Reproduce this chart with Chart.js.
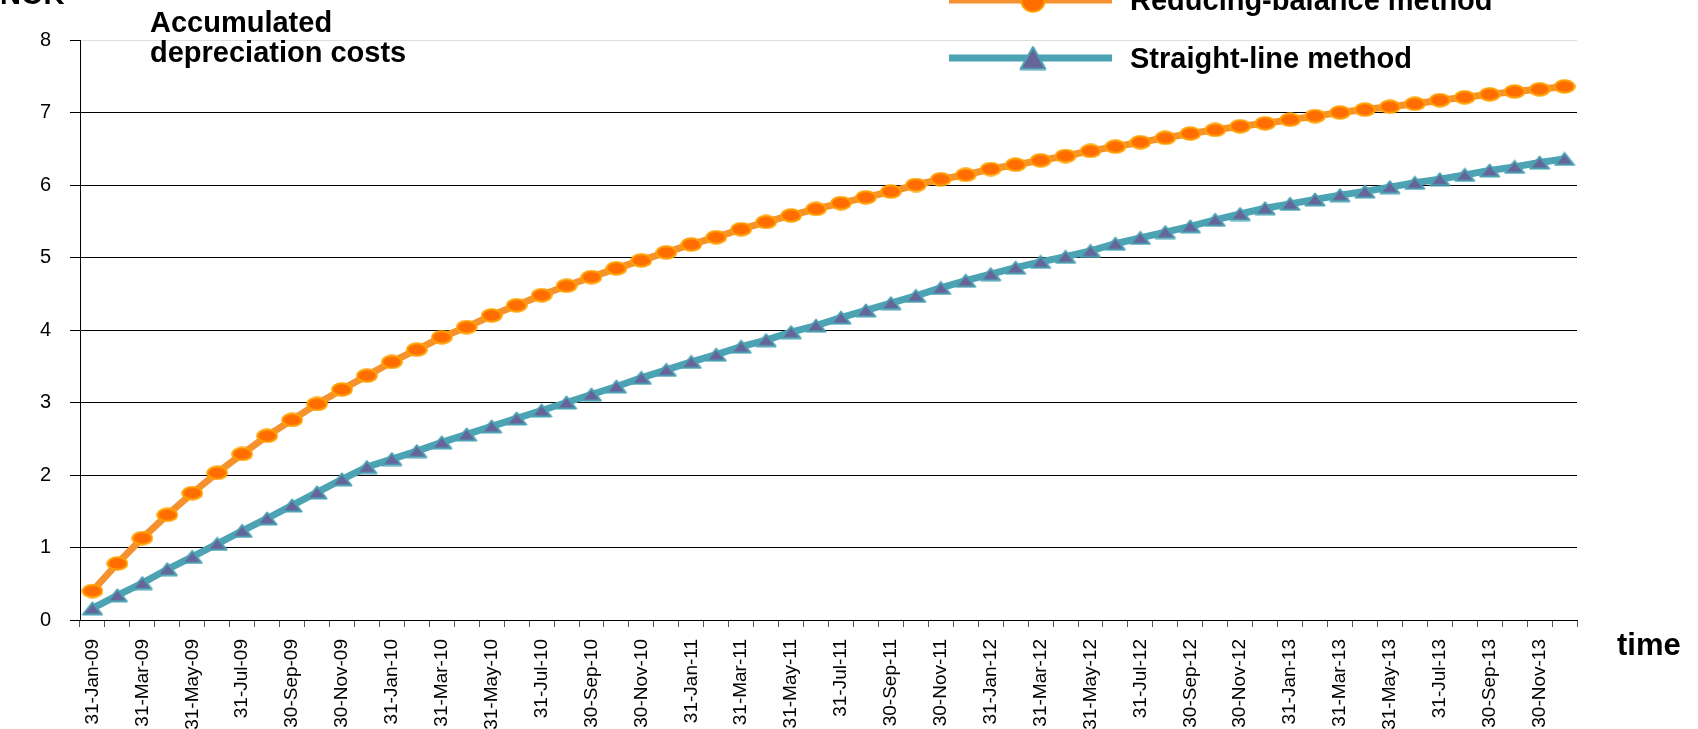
<!DOCTYPE html>
<html>
<head>
<meta charset="utf-8">
<script src="https://cdn.jsdelivr.net/npm/chart.js@4.4.1/dist/chart.umd.min.js"></script>
<style>
  html, body { margin: 0; padding: 0; background: #fff; }
  canvas { display: block; }
</style>
</head>
<body>
<canvas id="depChart" width="1698" height="729"></canvas>
<script>
// month-end dates, Jan 2009 .. Dec 2013
const categories = [
  '31-Jan-09', '28-Feb-09', '31-Mar-09', '30-Apr-09', '31-May-09', '30-Jun-09',
  '31-Jul-09', '31-Aug-09', '30-Sep-09', '31-Oct-09', '30-Nov-09', '31-Dec-09',
  '31-Jan-10', '28-Feb-10', '31-Mar-10', '30-Apr-10', '31-May-10', '30-Jun-10',
  '31-Jul-10', '31-Aug-10', '30-Sep-10', '31-Oct-10', '30-Nov-10', '31-Dec-10',
  '31-Jan-11', '28-Feb-11', '31-Mar-11', '30-Apr-11', '31-May-11', '30-Jun-11',
  '31-Jul-11', '31-Aug-11', '30-Sep-11', '31-Oct-11', '30-Nov-11', '31-Dec-11',
  '31-Jan-12', '29-Feb-12', '31-Mar-12', '30-Apr-12', '31-May-12', '30-Jun-12',
  '31-Jul-12', '31-Aug-12', '30-Sep-12', '31-Oct-12', '30-Nov-12', '31-Dec-12',
  '31-Jan-13', '28-Feb-13', '31-Mar-13', '30-Apr-13', '31-May-13', '30-Jun-13',
  '31-Jul-13', '31-Aug-13', '30-Sep-13', '31-Oct-13', '30-Nov-13', '31-Dec-13'
];

const reducingBalance = [
  0.40, 0.78, 1.13, 1.45, 1.75, 2.03, 2.29, 2.54, 2.76, 2.98, 3.18, 3.37,
  3.56, 3.73, 3.90, 4.04, 4.20, 4.34, 4.48, 4.61, 4.73, 4.85, 4.96, 5.07,
  5.18, 5.28, 5.39, 5.49, 5.58, 5.67, 5.75, 5.83, 5.91, 6.00, 6.08, 6.14,
  6.22, 6.28, 6.34, 6.40, 6.47, 6.53, 6.59, 6.65, 6.71, 6.76, 6.81, 6.85,
  6.90, 6.95, 7.00, 7.04, 7.08, 7.12, 7.17, 7.21, 7.25, 7.29, 7.32, 7.36
];

const straightLine = [
  0.16, 0.34, 0.51, 0.70, 0.87, 1.05, 1.23, 1.40, 1.58, 1.76, 1.94, 2.11,
  2.22, 2.33, 2.45, 2.56, 2.67, 2.78, 2.89, 3.00, 3.11, 3.22, 3.34, 3.45,
  3.56, 3.66, 3.77, 3.86, 3.97, 4.06, 4.17, 4.27, 4.37, 4.47, 4.58, 4.68,
  4.77, 4.86, 4.94, 5.01, 5.09, 5.19, 5.27, 5.35, 5.43, 5.52, 5.60, 5.68,
  5.74, 5.80, 5.86, 5.91, 5.97, 6.03, 6.08, 6.14, 6.20, 6.25, 6.31, 6.36
];

const yTicks = [0, 1, 2, 3, 4, 5, 6, 7, 8];

const FONT = '"Liberation Sans", Arial, sans-serif';
const ORANGE_LINE = '#f5922f', ORANGE_FILL = '#ff6d00', ORANGE_EDGE = '#ffa200';
const TEAL_LINE = '#4ba3b3', PURPLE_FILL = '#66659a';

// excel-like markers drawn on small canvases
function ellipseMarker(w, h) {
  const c = document.createElement('canvas');
  c.width = w; c.height = h;
  const g = c.getContext('2d');
  g.beginPath();
  g.ellipse(w / 2, h / 2, w / 2 - 1.2, h / 2 - 1.2, 0, 0, Math.PI * 2);
  g.fillStyle = ORANGE_FILL; g.fill();
  g.lineWidth = 2; g.strokeStyle = ORANGE_EDGE; g.stroke();
  return c;
}
function triangleMarker(w, h) {
  const c = document.createElement('canvas');
  c.width = w; c.height = h;
  const g = c.getContext('2d');
  g.beginPath();
  g.moveTo(w / 2, 1.5); g.lineTo(w - 1.5, h - 1.5); g.lineTo(1.5, h - 1.5); g.closePath();
  g.fillStyle = PURPLE_FILL; g.fill();
  g.lineWidth = 2; g.lineJoin = 'round'; g.strokeStyle = TEAL_LINE; g.stroke();
  return c;
}

const dotPt = ellipseMarker(22, 15);
const triPt = triangleMarker(22, 15);

const textPlugin = {
  id: 'textPlugin',
  afterDraw(chart) {
    const ctx = chart.ctx;
    ctx.save();
    ctx.fillStyle = '#000';
    ctx.textBaseline = 'alphabetic';
    ctx.textAlign = 'left';
    ctx.font = 'bold 29px ' + FONT;
    ctx.fillText('NOK', 0, 4);
    ctx.fillText('Accumulated', 150, 32);
    ctx.fillText('depreciation costs', 150, 62);
    ctx.font = 'bold 31px ' + FONT;
    ctx.fillText('time', 1617, 655);

    // legend
    const rows = [
      { y: 0, color: ORANGE_LINE, mark: ellipseMarker(26, 26), text: 'Reducing-balance method' },
      { y: 58, color: TEAL_LINE, mark: triangleMarker(28, 25), text: 'Straight-line method' }
    ];
    rows.forEach(r => {
      ctx.strokeStyle = r.color;
      ctx.lineWidth = 7;
      ctx.beginPath();
      ctx.moveTo(949, r.y); ctx.lineTo(1112, r.y);
      ctx.stroke();
      ctx.drawImage(r.mark, 1033 - r.mark.width / 2, r.y - r.mark.height / 2);
      ctx.font = 'bold 29px ' + FONT;
      ctx.fillStyle = '#000';
      ctx.fillText(r.text, 1130, r.y + 10);
    });
    ctx.restore();
  }
};

new Chart(document.getElementById('depChart'), {
  type: 'line',
  data: {
    labels: categories,
    datasets: [{
      label: 'Reducing-balance method',
      data: reducingBalance,
      borderColor: ORANGE_LINE,
      borderWidth: 7,
      pointStyle: dotPt,
      pointRadius: 10,
      tension: 0
    }, {
      label: 'Straight-line method',
      data: straightLine,
      borderColor: TEAL_LINE,
      borderWidth: 7,
      pointStyle: triPt,
      pointRadius: 10,
      tension: 0
    }]
  },
  options: {
    responsive: false,
    animation: false,
    devicePixelRatio: 1,
    layout: { padding: { top: 40, right: 121, left: 0, bottom: 0 } },
    plugins: {
      legend: { display: false },
      tooltip: { enabled: false }
    },
    scales: {
      x: {
        offset: true,
        afterFit: s => { s.height = 109; },
        grid: {
          offset: true,
          drawOnChartArea: false,
          drawTicks: true,
          tickLength: 7,
          color: '#555'
        },
        border: { color: '#000', width: 1 },
        ticks: {
          autoSkip: false,
          maxRotation: 90,
          minRotation: 90,
          padding: 12,
          color: '#000',
          font: { family: FONT, size: 19 },
          callback: (v, i) => (i % 2 === 0 ? categories[i] : '')
        }
      },
      y: {
        min: yTicks[0],
        max: yTicks[yTicks.length - 1],
        afterFit: s => { s.width = 80; },
        afterBuildTicks: s => { s.ticks = yTicks.map(v => ({ value: v })); },
        grid: {
          color: c => (c.tick && c.tick.value === 8 ? '#dedede' : '#000'),
          tickColor: '#000',
          tickLength: 10,
          lineWidth: 1
        },
        border: { color: '#000', width: 1 },
        ticks: {
          padding: 19,
          color: '#000',
          font: { family: FONT, size: 20 }
        }
      }
    }
  },
  plugins: [textPlugin]
});
</script>
</body>
</html>
